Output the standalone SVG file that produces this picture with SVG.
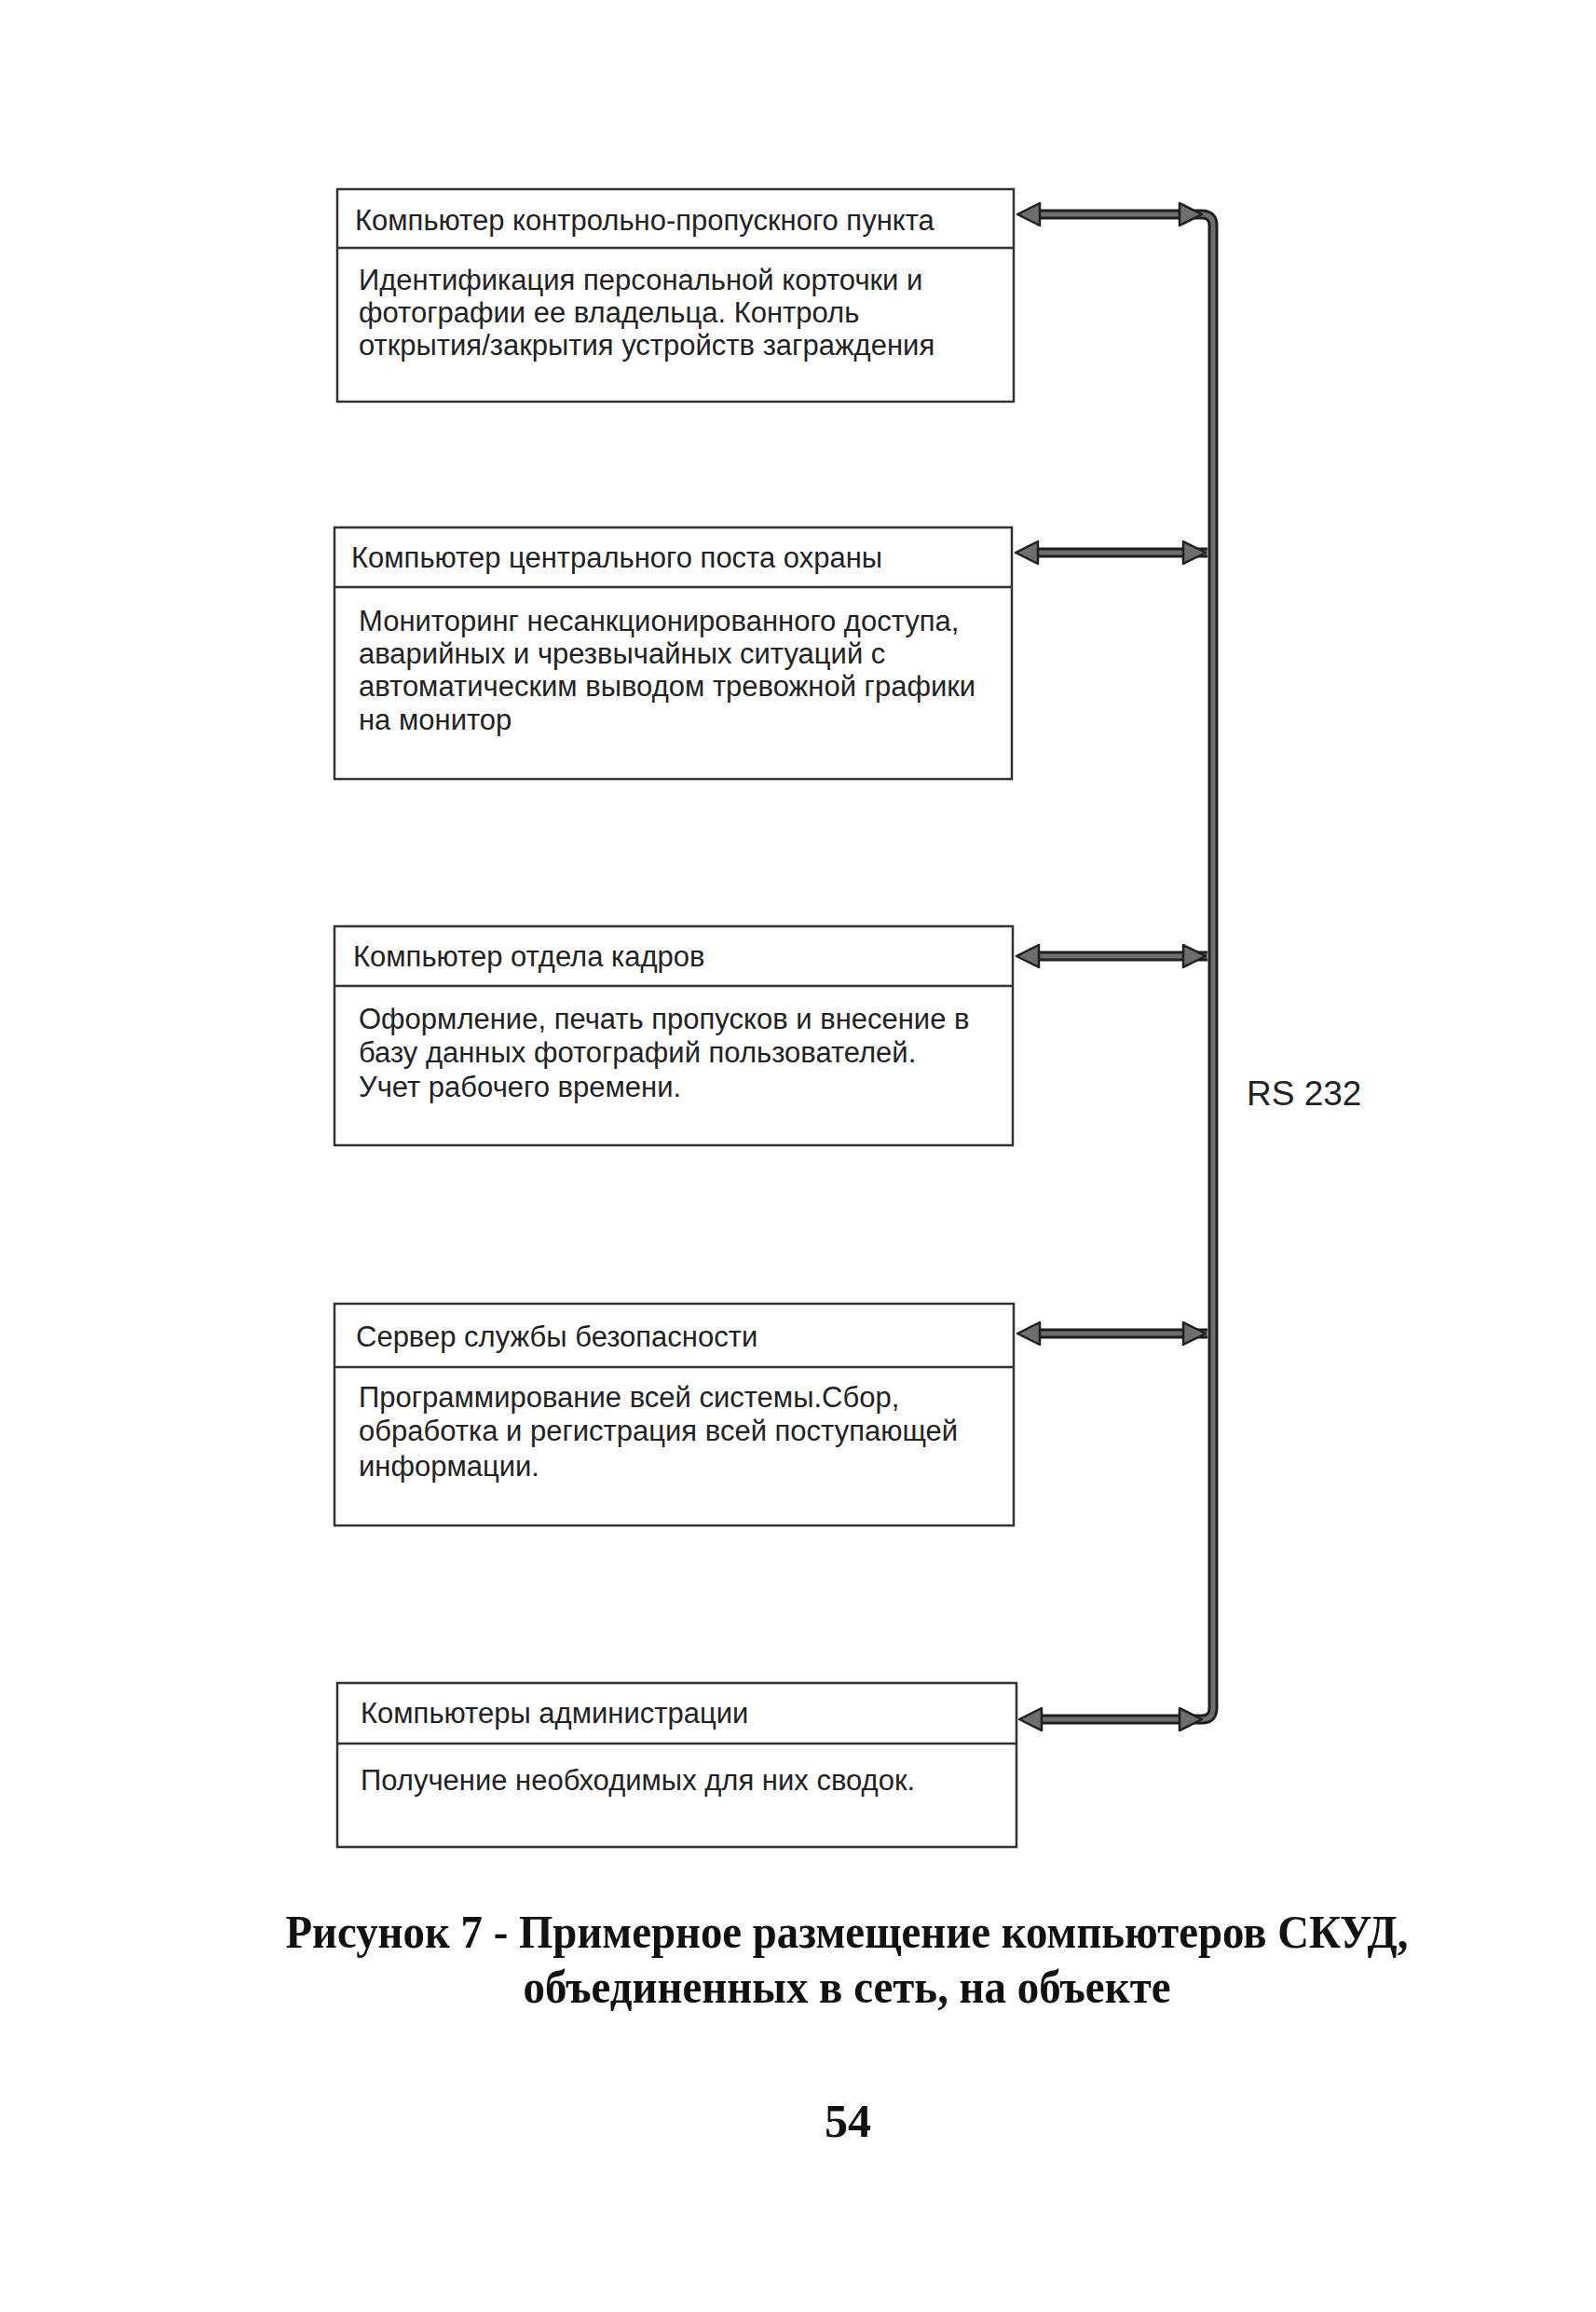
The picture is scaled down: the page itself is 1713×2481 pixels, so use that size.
<svg xmlns="http://www.w3.org/2000/svg" width="1713" height="2481" viewBox="0 0 1713 2481">
<style>
.box{fill:#fff;stroke:#333;stroke-width:2.5}
.div{stroke:#333;stroke-width:2.5}
.t{font-family:"Liberation Sans",Arial,sans-serif;font-size:31px;fill:#222}
.cap{font-family:"Liberation Serif","Times New Roman",serif;font-size:50px;font-weight:bold;fill:#111}
.shaftO{fill:none;stroke:#1e1e1e;stroke-width:11;stroke-linejoin:round}
.shaftI{fill:none;stroke:#6e6e6e;stroke-width:5;stroke-linejoin:round}
.head{fill:#6e6e6e;stroke:#1e1e1e;stroke-width:2.5;stroke-linejoin:round}
</style>
<rect width="1713" height="2481" fill="#fff"/>

<g id="node1">
<rect class="box" x="362" y="203" width="726" height="228"/>
<line class="div" x1="362" y1="266" x2="1088" y2="266"/>
<text class="t" x="381" y="247">Компьютер контрольно-пропускного пункта</text>
<text class="t" x="385" y="311">Идентификация персональной корточки и</text>
<text class="t" x="385" y="346">фотографии ее владельца. Контроль</text>
<text class="t" x="385" y="381">открытия/закрытия устройств заграждения</text>
</g>

<g id="node2">
<rect class="box" x="359" y="566" width="727" height="270"/>
<line class="div" x1="359" y1="630" x2="1086" y2="630"/>
<text class="t" x="377" y="609">Компьютер центрального поста охраны</text>
<text class="t" x="385" y="677">Мониторинг несанкционированного доступа,</text>
<text class="t" x="385" y="712">аварийных и чрезвычайных ситуаций с</text>
<text class="t" x="385" y="747">автоматическим выводом тревожной графики</text>
<text class="t" x="385" y="783">на монитор</text>
</g>

<g id="node3">
<rect class="box" x="359" y="994" width="728" height="235"/>
<line class="div" x1="359" y1="1058" x2="1087" y2="1058"/>
<text class="t" x="379" y="1037">Компьютер отдела кадров</text>
<text class="t" x="385" y="1104">Оформление, печать пропусков и внесение в</text>
<text class="t" x="385" y="1140">базу данных фотографий пользователей.</text>
<text class="t" x="385" y="1177">Учет рабочего времени.</text>
</g>

<g id="node4">
<rect class="box" x="359" y="1399" width="729" height="238"/>
<line class="div" x1="359" y1="1467" x2="1088" y2="1467"/>
<text class="t" x="382" y="1445">Сервер службы безопасности</text>
<text class="t" x="385" y="1510">Программирование всей системы.Сбор,</text>
<text class="t" x="385" y="1546">обработка и регистрация всей поступающей</text>
<text class="t" x="385" y="1584">информации.</text>
</g>

<g id="node5">
<rect class="box" x="362" y="1806" width="729" height="176"/>
<line class="div" x1="362" y1="1871" x2="1091" y2="1871"/>
<text class="t" x="387" y="1849">Компьютеры администрации</text>
<text class="t" x="387" y="1921">Получение необходимых для них сводок.</text>
</g>

<g id="connectors">
<path class="shaftO" d="M1110,230 H1290 Q1302,230 1302,242 V1833 Q1302,1845 1290,1845 H1112"/>
<path class="shaftO" d="M1108,593 H1296 M1110,1026 H1296 M1110,1431 H1296"/>
<path class="shaftI" d="M1110,230 H1290 Q1302,230 1302,242 V1833 Q1302,1845 1290,1845 H1112"/>
<path class="shaftI" d="M1108,593 H1296 M1110,1026 H1296 M1110,1431 H1296"/>
<polygon class="head" points="1092,230 1116,218 1116,242"/>
<polygon class="head" points="1290,230 1266,218 1266,242"/>
<polygon class="head" points="1090,593 1114,581 1114,605"/>
<polygon class="head" points="1294,593 1270,581 1270,605"/>
<polygon class="head" points="1091,1026 1115,1014 1115,1038"/>
<polygon class="head" points="1294,1026 1270,1014 1270,1038"/>
<polygon class="head" points="1092,1431 1116,1419 1116,1443"/>
<polygon class="head" points="1294,1431 1270,1419 1270,1443"/>
<polygon class="head" points="1094,1845 1118,1833 1118,1857"/>
<polygon class="head" points="1290,1845 1266,1833 1266,1857"/>
</g>

<text id="bus-label" x="1338" y="1186" font-family="Liberation Sans, Arial, sans-serif" font-size="37" fill="#222">RS 232</text>

<g id="caption">
<text class="cap" x="909" y="2090" text-anchor="middle" textLength="1205" lengthAdjust="spacingAndGlyphs">Рисунок 7 - Примерное размещение компьютеров СКУД,</text>
<text class="cap" x="909" y="2149" text-anchor="middle" textLength="695" lengthAdjust="spacingAndGlyphs">объединенных в сеть, на объекте</text>
<text class="cap" x="910" y="2293" text-anchor="middle" font-size="40">54</text>
</g>
</svg>
